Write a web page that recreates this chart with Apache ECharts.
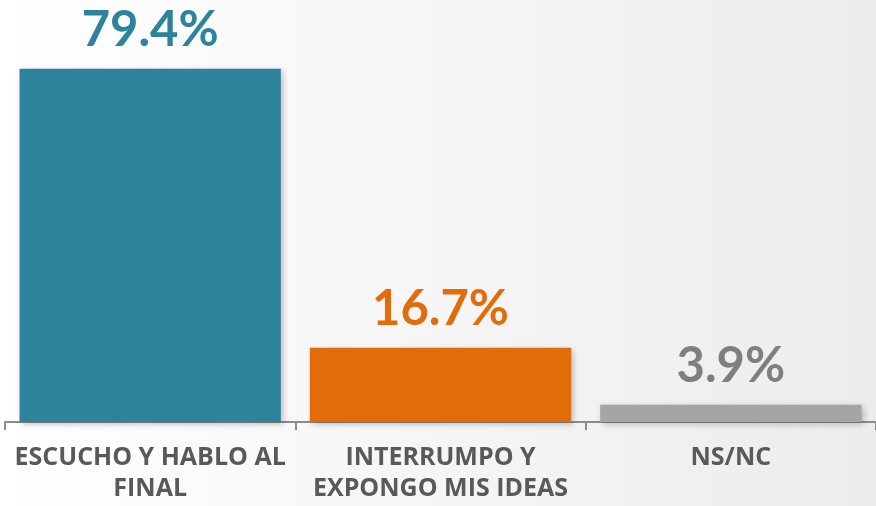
<!DOCTYPE html>
<html>
<head>
<meta charset="utf-8">
<script src="https://cdn.jsdelivr.net/npm/echarts@6/dist/echarts.min.js"></script>
<style>
  html, body { margin: 0; padding: 0; }
  #chart { width: 876px; height: 506px; }
</style>
</head>
<body>
<div id="chart"></div>
<script>
var categories = ['ESCUCHO Y HABLO AL\nFINAL', 'INTERRUMPO Y\nEXPONGO MIS IDEAS', 'NS/NC'];
var values = [79.4, 16.7, 3.9];
var barColors = ['#2E839C', '#E36C0A', '#A5A5A5'];
var labelColors = ['#2E839C', '#E36C0A', '#7F7F7F'];

var chart = echarts.init(document.getElementById('chart'));
chart.setOption({
    backgroundColor: new echarts.graphic.LinearGradient(0, 0, 1, 0, [
        { offset: 0, color: '#ffffff' },
        { offset: 1, color: '#ececec' }
    ]),
    grid: { left: 5, right: 0, top: 66, bottom: 84 },
    xAxis: {
        type: 'category',
        data: categories,
        axisLine: { lineStyle: { color: '#8c8c8c', width: 2 } },
        axisTick: { show: true, length: 8, lineStyle: { color: '#8c8c8c', width: 2 } },
        axisLabel: {
            color: '#595959',
            fontFamily: 'Open Sans',
            fontWeight: 'bold',
            fontSize: 25,
            lineHeight: 31,
            margin: 20,
            interval: 0
        }
    },
    yAxis: {
        type: 'value',
        min: 0,
        max: 80,
        show: false
    },
    series: [{
        type: 'bar',
        barCategoryGap: '10%',
        data: values.map(function (v, i) {
            return {
                value: v,
                itemStyle: {
                    color: barColors[i],
                    shadowColor: 'rgba(0,0,0,0.25)',
                    shadowBlur: 6,
                    shadowOffsetX: 2,
                    shadowOffsetY: 2
                },
                label: { color: labelColors[i] }
            };
        }),
        label: {
            show: true,
            position: 'top',
            distance: 14,
            fontFamily: 'Lato',
            fontWeight: 'bold',
            fontSize: 49,
            formatter: function (p) { return p.value.toFixed(1) + '%'; }
        }
    }]
});
</script>
</body>
</html>
